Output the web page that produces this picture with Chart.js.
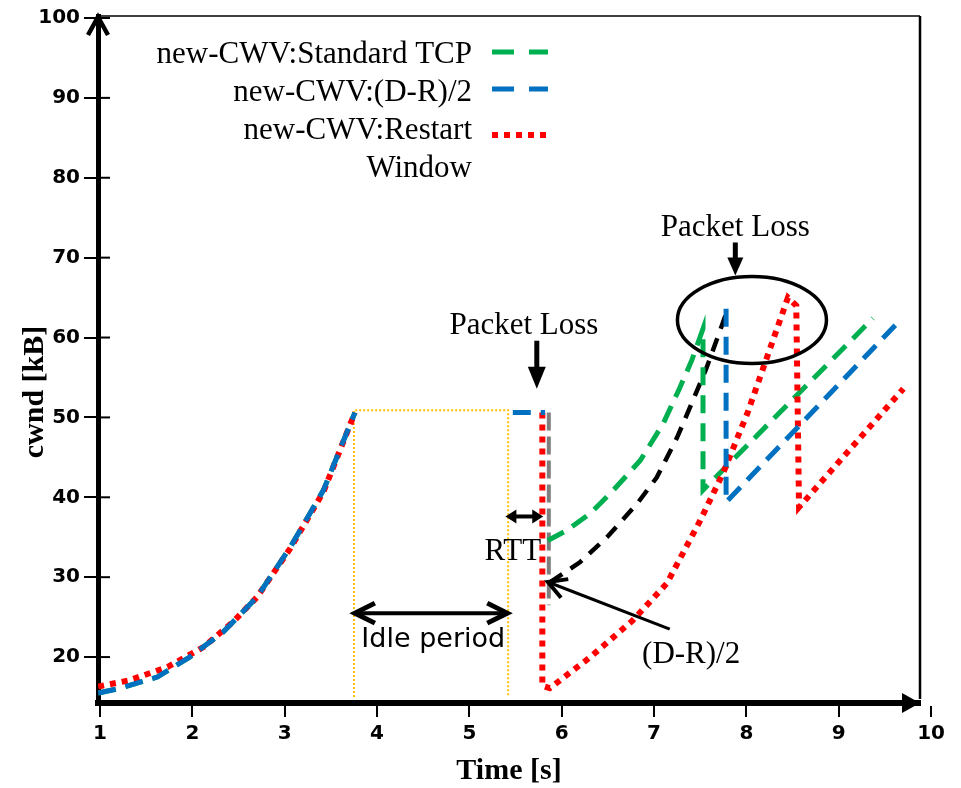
<!DOCTYPE html>
<html lang="en">
<head>
<meta charset="UTF-8">
<title>new-CWV cwnd over time</title>
<script src="https://cdn.jsdelivr.net/npm/chart.js"></script>
<style>
  html, body { margin: 0; padding: 0; background: #fff; }
  .chart-container { width: 961px; height: 788px; }
</style>
</head>
<body>
<div class="chart-container"><canvas id="cwndChart"></canvas></div>
<script>
// tick labels
const timeTicks = [1, 2, 3, 4, 5, 6, 7, 8, 9, 10];
const cwndTicks = [20, 30, 40, 50, 60, 70, 80, 90, 100];

// slow start before the idle period (green and blue overlap)
const startX = [0.98, 1.22, 1.62, 1.97, 2.33, 2.70, 3.06, 3.42, 3.76];
const startY = [15.5, 16.1, 17.5, 20.0, 23.1, 27.5, 33.75, 40.9, 50.6];
const restartStartX = [0.98, 1.32, 1.73, 2.12, 2.44, 2.70, 3.06, 3.42, 3.76];
const restartStartY = [16.3, 17.1, 18.75, 21.25, 24.4, 27.5, 33.6, 40.7, 50.6];

// after the idle period
const stdTcpX = [5.85, 6.06, 6.31, 6.56, 6.85, 7.10, 7.28, 7.41, 7.53, 7.53, 9.37];
const stdTcpY = [34.6, 35.9, 38.0, 40.9, 44.6, 49.25, 53.75, 57.2, 61.1, 40.9, 62.4];

const drHalfX = [5.47, 5.82, 6.80, 7.78, 7.78, 9.66];
const drHalfY = [50.6, 50.6, null, 63.6, 39.4, 62.1];

const restartX = [5.79, 5.79, 5.87, 6.31, 6.77, 7.14, 7.50, 7.75, 8.01, 8.26, 8.45, 8.54, 8.57, 9.70];
const restartY = [50.6, 16.4, 16.1, 20.0, 24.6, 29.25, 37.1, 43.1, 50.5, 58.75, 65.0, 64.0, 38.75, 53.6];

// (D-R)/2 growth after restart (black) and the drop at the loss (grey)
const drCurveX = [5.88, 6.20, 6.49, 6.82, 7.03, 7.25, 7.42, 7.57, 7.80];
const drCurveY = [29.4, 31.9, 35.0, 39.25, 42.5, 47.5, 52.1, 56.25, 63.6];
const dropX = [5.86, 5.86];
const dropY = [50.6, 26.5];

// idle window outline
const idleX = [3.75, 3.75, 5.42, 5.42];
const idleY = [15.0, 50.9, 50.9, 15.0];

const gapX = 4.6;

function pts(xs, ys) {
    return xs.map((x, i) => ({ x: x, y: ys[i] }));
}

const greenData = pts(startX, startY).concat([{ x: gapX, y: null }], pts(stdTcpX, stdTcpY));
const blueData = pts(startX, startY).concat([{ x: gapX, y: null }], pts(drHalfX, drHalfY));
const redData = pts(restartStartX, restartStartY).concat([{ x: gapX, y: null }], pts(restartX, restartY));

const SERIF = '"Liberation Serif", "Times New Roman", serif';
const SANS = '"DejaVu Sans", Verdana, sans-serif';

const notesPlugin = {
    id: 'cwndNotes',
    afterDatasetsDraw(chart) {
        const ctx = chart.ctx;
        const xs = chart.scales.x, ys = chart.scales.y;
        const px = v => xs.getPixelForValue(v);
        const py = v => ys.getPixelForValue(v);

        function filledHead(x, y, ang, len, half) {
            ctx.save();
            ctx.translate(x, y); ctx.rotate(ang);
            ctx.beginPath();
            ctx.moveTo(0, 0); ctx.lineTo(-len, -half); ctx.lineTo(-len, half);
            ctx.closePath(); ctx.fill();
            ctx.restore();
        }
        function openHead(x, y, ang, len, half, lw) {
            ctx.save();
            ctx.translate(x, y); ctx.rotate(ang);
            ctx.lineWidth = lw;
            ctx.beginPath();
            ctx.moveTo(-len, -half); ctx.lineTo(0, 0); ctx.lineTo(-len, half);
            ctx.stroke();
            ctx.restore();
        }
        function line(x1, y1, x2, y2, lw) {
            ctx.lineWidth = lw;
            ctx.beginPath(); ctx.moveTo(x1, y1); ctx.lineTo(x2, y2); ctx.stroke();
        }

        ctx.save();
        ctx.fillStyle = '#000';
        ctx.strokeStyle = '#000';
        ctx.lineCap = 'butt';

        // Packet Loss #1
        ctx.font = '31px ' + SERIF;
        ctx.textAlign = 'center';
        ctx.textBaseline = 'alphabetic';
        ctx.fillText('Packet Loss', px(5.59), py(60.5));
        line(px(5.73), py(59.6), px(5.73), py(56.2), 5);
        filledHead(px(5.73), py(53.6), Math.PI / 2, 22, 9);

        // Packet Loss #2 with ellipse
        ctx.fillText('Packet Loss', px(7.88), py(72.75));
        line(px(7.88), py(71.9), px(7.88), py(69.9), 5);
        filledHead(px(7.88), py(67.75), Math.PI / 2, 18, 8);
        const ex = px(8.06), ey = py(62.2);
        const erx = px(8.06 + 0.807) - ex, ery = ey - py(62.2 + 5.44);
        ctx.lineWidth = 3.5;
        ctx.beginPath();
        ctx.ellipse(ex, ey, erx, ery, 0, 0, Math.PI * 2);
        ctx.stroke();

        // idle period
        const ia = px(3.76), ib = px(5.41), iy = py(25.5);
        line(ia, iy, ib, iy, 4);
        openHead(ia, iy, Math.PI, 20, 10, 5);
        openHead(ib, iy, 0, 20, 10, 5);
        ctx.font = '27px ' + SANS;
        ctx.textAlign = 'left';
        ctx.fillText('Idle period', px(3.83), py(21.25));

        // RTT
        const ra = px(5.39), rb = px(5.80), ry = py(37.6);
        line(ra + 6, ry, rb - 6, ry, 4);
        filledHead(ra, ry, Math.PI, 11, 7);
        filledHead(rb, ry, 0, 11, 7);
        ctx.font = '31px ' + SERIF;
        ctx.textAlign = 'center';
        ctx.fillText('RTT', px(5.47), py(32.1));

        // (D-R)/2 pointer
        const tx = px(7.17), ty = py(23.5), hx = px(5.85), hy = py(29.4);
        line(tx, ty, hx, hy, 3);
        openHead(hx, hy, Math.atan2(hy - ty, hx - tx), 18, 10, 4);
        ctx.textAlign = 'left';
        ctx.fillText('(D-R)/2', px(6.87), py(19.25));

        // legend (text right-aligned, sample on the right)
        const rows = chart.data.datasets.filter(d => d.legendText)
            .sort((a, b) => a.legendRank - b.legendRank);
        let base = 63;
        rows.forEach(d => {
            ctx.font = '31px ' + SERIF;
            ctx.textAlign = 'right';
            ctx.fillStyle = '#000';
            d.legendText.forEach((t, k) => ctx.fillText(t, 472, base + k * 38));
            const sy = base - d.legendLift;
            ctx.save();
            ctx.strokeStyle = d.borderColor;
            ctx.lineWidth = d.borderWidth;
            ctx.setLineDash(d.legendDash);
            ctx.beginPath(); ctx.moveTo(492, sy); ctx.lineTo(548, sy); ctx.stroke();
            ctx.restore();
            base += 38 * d.legendText.length;
        });
        ctx.restore();
    },
    afterDraw(chart) {
        const ctx = chart.ctx;
        const a = chart.chartArea;
        ctx.save();
        ctx.strokeStyle = '#000';
        ctx.fillStyle = '#000';
        // thin frame top / right
        ctx.lineWidth = 1.5;
        ctx.beginPath(); ctx.moveTo(a.left, a.top); ctx.lineTo(a.right, a.top); ctx.stroke();
        ctx.lineWidth = 2.5;
        ctx.beginPath(); ctx.moveTo(a.right, a.top); ctx.lineTo(a.right, a.bottom - 4); ctx.stroke();
        // y tick marks reach a little into the plot
        ctx.lineWidth = 2;
        chart.scales.y.ticks.forEach(t => {
            const y = chart.scales.y.getPixelForValue(t.value);
            ctx.beginPath(); ctx.moveTo(a.left, y); ctx.lineTo(a.left + 12, y); ctx.stroke();
        });
        // y axis arrow (open)
        ctx.lineWidth = 4.5;
        ctx.beginPath();
        ctx.moveTo(a.left - 10, a.top + 19); ctx.lineTo(a.left, a.top + 1); ctx.lineTo(a.left + 10, a.top + 19);
        ctx.stroke();
        // x axis arrow (filled)
        ctx.beginPath();
        ctx.moveTo(a.right, a.bottom); ctx.lineTo(a.right - 18, a.bottom - 10); ctx.lineTo(a.right - 18, a.bottom + 10);
        ctx.closePath(); ctx.fill();
        // y title
        ctx.translate(35, 392);
        ctx.rotate(-Math.PI / 2);
        ctx.font = 'bold 30px ' + SERIF;
        ctx.textAlign = 'center';
        ctx.textBaseline = 'middle';
        ctx.fillText('cwnd [kB]', 0, 0);
        ctx.restore();
    }
};

const ctx = document.getElementById('cwndChart').getContext('2d');
new Chart(ctx, {
    type: 'scatter',
    data: {
        datasets: [
            {
                label: 'new-CWV:(D-R)/2',
                legendText: ['new-CWV:(D-R)/2'], legendRank: 2, legendDash: [22, 15], legendLift: 12,
                data: blueData, showLine: true, borderColor: '#0070C0', borderWidth: 5,
                borderDash: [18, 10], order: 0
            },
            {
                label: 'new-CWV:Restart Window',
                legendText: ['new-CWV:Restart', 'Window'], legendRank: 3, legendDash: [6, 6], legendLift: 4,
                data: redData, showLine: true, borderColor: '#FF0000', borderWidth: 6,
                borderDash: [6, 6], order: 1
            },
            {
                label: 'new-CWV:Standard TCP',
                legendText: ['new-CWV:Standard TCP'], legendRank: 1, legendDash: [22, 15], legendLift: 11,
                data: greenData, showLine: true, borderColor: '#00B050', borderWidth: 5,
                borderDash: [18, 10], order: 2
            },
            {
                label: '(D-R)/2 growth',
                data: pts(drCurveX, drCurveY), showLine: true, borderColor: '#000000', borderWidth: 4.5,
                borderDash: [14, 10], order: 3
            },
            {
                label: 'drop',
                data: pts(dropX, dropY), showLine: true, borderColor: '#7F7F7F', borderWidth: 4,
                borderDash: [18, 6], order: 4
            },
            {
                label: 'idle window',
                data: pts(idleX, idleY), showLine: true, borderColor: '#FFC000', borderWidth: 2,
                borderDash: [2, 2], order: 5
            }
        ].map(d => Object.assign({ pointRadius: 0, pointHoverRadius: 0, tension: 0,
                                    spanGaps: false, borderCapStyle: 'butt', fill: false }, d))
    },
    options: {
        responsive: true,
        maintainAspectRatio: false,
        animation: false,
        events: [],
        layout: { padding: { top: 15, right: 41, bottom: 0, left: 0 } },
        plugins: { legend: { display: false }, tooltip: { enabled: false } },
        scales: {
            x: {
                type: 'linear',
                min: 0.978,
                max: 9.88,
                afterBuildTicks: axis => { axis.ticks = timeTicks.map(v => ({ value: v })); },
                afterFit: axis => { axis.height = 85; },
                ticks: {
                    autoSkip: false, maxRotation: 0, padding: 5, color: '#000',
                    font: { family: SANS, size: 20, weight: 'bold' }
                },
                grid: { drawOnChartArea: false, drawTicks: true, tickLength: 14, color: '#000', lineWidth: 2 },
                border: { display: true, color: '#000', width: 6 },
                title: {
                    display: true, text: 'Time [s]', color: '#000', padding: 0,
                    font: { family: SERIF, size: 30, weight: 'bold', lineHeight: 1.1 }
                }
            },
            y: {
                type: 'linear',
                min: 14.25,
                max: 100.25,
                afterBuildTicks: axis => { axis.ticks = cwndTicks.map(v => ({ value: v })); },
                afterFit: axis => { axis.width = 98; },
                ticks: {
                    padding: 4, color: '#000',
                    font: { family: SANS, size: 20, weight: 'bold' }
                },
                grid: { drawOnChartArea: false, drawTicks: true, tickLength: 14, color: '#000', lineWidth: 2 },
                border: { display: true, color: '#000', width: 5 }
            }
        }
    },
    plugins: [notesPlugin]
});
</script>
</body>
</html>
